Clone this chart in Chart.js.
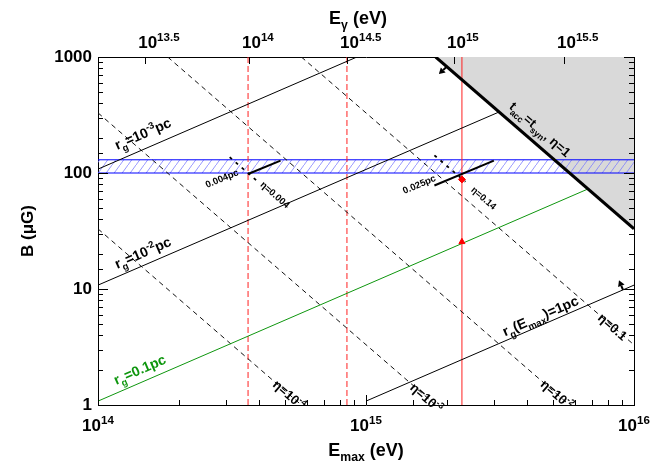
<!DOCTYPE html>
<html><head><meta charset="utf-8">
<script src="https://cdn.jsdelivr.net/npm/chart.js@4.4.1/dist/chart.umd.min.js"></script>
<style>html,body{margin:0;padding:0;background:#fff;}canvas{display:block;}</style>
</head><body>
<canvas id="c" width="664" height="465"></canvas>
<script>
// ---------- data ----------
const xRange = [1e14, 1e16];          // E_max (eV)
const yRange = [1, 1000];             // B (µG)
const xMajorTicks = [1e14, 1e15, 1e16];
const xTickLabels = [['10','14'], ['10','15'], ['10','16']];
const yMajorTicks = [1, 10, 100, 1000];
const yTickLabels = ['1', '10', '100', '1000'];
const topTickEmax = [1.50e14, 3.66e14, 8.5e14, 2.13e15, 5.48e15];   // positions of E_gamma ticks in E_max
const topTickLabels = [['10','13.5'], ['10','14'], ['10','14.5'], ['10','15'], ['10','15.5']];

const rgLine1e3 = [[1e14, 108], [9.25e14, 1000]];
const rgLine1e2 = [[1e14, 10.8], [3.14e15, 336]];
const rgLine01  = [[1e14, 1.08], [6.73e15, 72.8]];
const rgLine1pc = [[1e15, 1.08], [1e16, 10.8]];
const etaLine1e4 = [[1e14, 33], [5.74e14, 1]];
const etaLine1e3 = [[1e14, 330], [1.82e15, 1]];
const etaLine1e2 = [[1.82e14, 1000], [5.74e15, 1]];
const etaLine1e1 = [[5.74e14, 1000], [1e16, 3.3]];
const etaLine1   = [[1.82e15, 1000], [1e16, 33]];
const segRg004  = [[3.63e14, 98], [4.8e14, 128]];
const segRg025  = [[1.8e15, 78], [3.0e15, 128]];
const segEta004 = [[3.1e14, 137], [4.0e14, 82]];
const segEta014 = [[1.8e15, 142], [2.35e15, 84]];
const bandB = [100, 130];
const redDashedE = [3.63e14, 8.49e14];
const redSolidE = [2.28e15];
const redPoint = [[2.28e15, 88]];
const redLimit = [[2.28e15, 25.5]];
const arrows = [
  {from: [2.0e15, 825], to: [1.87e15, 713]},
  {from: [9.1e15, 9.84], to: [8.79e15, 11.9]}
];

const GREEN = '#0e960e';
const GREY = '#d9d9d9';
const FONT = '"Liberation Sans", Arial, Helvetica, sans-serif';
function fnt(s){ return 'bold ' + s + 'px ' + FONT; }

const labels = [
  {segs:[['r'],['g','sub'],['=10'],['-3','sup'],['pc']], at:[1.18e14,158], ref:rgLine1e3, size:14},
  {segs:[['r'],['g','sub'],['=10'],['-2','sup'],['pc']], at:[1.18e14,14.9], ref:rgLine1e2, size:14},
  {segs:[['r'],['g','sub'],['=0.1pc']], at:[1.17e14,1.49], ref:rgLine01, size:14, color:GREEN},
  {segs:[['r'],['g','sub'],['(E'],['max','sub'],[')=1pc']], at:[3.3e15,3.9], ref:rgLine1pc, size:14},
  {segs:[['t'],['acc','sub'],['=t'],['syn','sub'],[', η=1']], at:[3.4e15,365], ref:etaLine1, size:13},
  {segs:[['η=10'],['-4','sup']], at:[4.58e14,1.57], ref:etaLine1e4, size:13, mid:true},
  {segs:[['η=10'],['-3','sup']], at:[1.49e15,1.48], ref:etaLine1e3, size:13, mid:true},
  {segs:[['η=10'],['-2','sup']], at:[4.57e15,1.58], ref:etaLine1e2, size:13, mid:true},
  {segs:[['η=0.1']], at:[7.47e15,5.9], ref:etaLine1e1, size:13, mid:true},
  {segs:[['0.004pc']], at:[2.55e14,74.3], ref:segRg004, size:9.5},
  {segs:[['η=0.004']], at:[4.09e14,82], ref:segEta004, size:9.5, mid:true},
  {segs:[['0.025pc']], at:[1.39e15,65.9], ref:segRg025, size:9.5},
  {segs:[['η=0.14']], at:[2.5e15,74], ref:segEta014, size:9.5, mid:true}
];

// ---------- helpers ----------
function pts(a){ return a.map(p => ({x:p[0], y:p[1]})); }
function lineDS(arr, color, width, dash, extra){
  return Object.assign({data: pts(arr), borderColor: color, borderWidth: width, borderDash: dash || [],
    pointRadius: 0, pointHoverRadius: 0, fill: false, tension: 0}, extra || {});
}
function isMajor(v){ const l = Math.log10(v); return Math.abs(l - Math.round(l)) < 1e-6; }
function richWidth(ctx, segs, size){
  let w = 0;
  for (const s of segs){ ctx.font = fnt(s[1] ? size*0.68 : size); w += ctx.measureText(s[0]).width; }
  return w;
}
function drawRich(ctx, segs, x, y, size){
  let cx = x;
  for (const s of segs){
    const k = s[1];
    const fs = k ? size*0.68 : size;
    ctx.font = fnt(fs);
    const dy = k === 'sub' ? size*0.3 : (k === 'sup' ? -size*0.42 : 0);
    ctx.fillText(s[0], cx, y + dy);
    cx += ctx.measureText(s[0]).width;
  }
}

const canvas = document.getElementById('c');
const mainCtx = canvas.getContext('2d');
function hatchPattern(){
  const c = document.createElement('canvas'); c.width = 8; c.height = 11;
  const g = c.getContext('2d');
  g.strokeStyle = 'rgba(120,120,255,0.85)'; g.lineWidth = 0.9;
  g.beginPath(); g.moveTo(0, 11); g.lineTo(8, 0); g.stroke();
  return mainCtx.createPattern(c, 'repeat');
}

// ---------- datasets ----------
const datasets = [];
datasets.push(lineDS(etaLine1, 'rgba(0,0,0,0)', 0, [], {fill: 'end', backgroundColor: GREY, order: 10}));
const bandLowIdx = datasets.length;
datasets.push(lineDS([[xRange[0], bandB[0]], [xRange[1], bandB[0]]], '#0000ff', 1, [], {order: 9}));
datasets.push(lineDS([[xRange[0], bandB[1]], [xRange[1], bandB[1]]], '#0000ff', 1, [], {order: 9, fill: {target: bandLowIdx}, backgroundColor: hatchPattern()}));
datasets.push(lineDS(rgLine1e3, '#000', 1));
datasets.push(lineDS(rgLine1e2, '#000', 1));
datasets.push(lineDS(rgLine01, GREEN, 1));
datasets.push(lineDS(rgLine1pc, '#000', 1));
for (const l of [etaLine1e4, etaLine1e3, etaLine1e2, etaLine1e1]) datasets.push(lineDS(l, '#111', 1, [5, 4]));
datasets.push(lineDS(segRg004, '#000', 2));
datasets.push(lineDS(segRg025, '#000', 2));
datasets.push(lineDS(segEta004, '#000', 1.8, [3, 5]));
datasets.push(lineDS(segEta014, '#000', 1.8, [3, 5]));
for (const e of redDashedE) datasets.push(lineDS([[e, yRange[0]], [e, yRange[1]]], '#ff2020', 1, [6, 3]));
for (const e of redSolidE) datasets.push(lineDS([[e, yRange[0]], [e, yRange[1]]], '#ff2020', 1));
datasets.push({data: pts(redPoint), showLine: false, pointStyle: 'rectRot', pointRadius: 3.5, pointBackgroundColor: '#ff0000', pointBorderColor: '#ff0000', order: -2});
datasets.push({data: pts(redLimit), showLine: false, pointStyle: 'triangle', pointRadius: 3.5, pointBackgroundColor: '#ff0000', pointBorderColor: '#ff0000', order: -2});
datasets.push(lineDS(etaLine1, '#000', 3, [], {order: -1}));

// ---------- plugin for ticks, labels, annotations ----------
const decor = {
  id: 'decor',
  afterDatasetsDraw(chart){
    const ctx = chart.ctx, X = chart.scales.x, Y = chart.scales.y;
    const P = p => [X.getPixelForValue(p[0]), Y.getPixelForValue(p[1])];
    ctx.save();
    ctx.strokeStyle = '#000'; ctx.fillStyle = '#000'; ctx.lineWidth = 2;
    for (const a of arrows){
      const [x1, y1] = P(a.from), [x2, y2] = P(a.to);
      const ang = Math.atan2(y2 - y1, x2 - x1);
      const hl = 6, hw = 3.5;
      const bx = x2 - hl*Math.cos(ang), by = y2 - hl*Math.sin(ang);
      ctx.beginPath(); ctx.moveTo(x1, y1); ctx.lineTo(bx, by); ctx.stroke();
      ctx.beginPath(); ctx.moveTo(x2, y2);
      ctx.lineTo(bx + hw*Math.sin(ang), by - hw*Math.cos(ang));
      ctx.lineTo(bx - hw*Math.sin(ang), by + hw*Math.cos(ang));
      ctx.closePath(); ctx.fill();
    }
    ctx.textAlign = 'left'; ctx.textBaseline = 'alphabetic';
    for (const L of labels){
      const [ax, ay] = P(L.at);
      const p1 = P(L.ref[0]), p2 = P(L.ref[1]);
      const ang = Math.atan2(p2[1] - p1[1], p2[0] - p1[0]);
      ctx.save();
      ctx.translate(ax, ay); ctx.rotate(ang);
      ctx.fillStyle = L.color || '#000';
      drawRich(ctx, L.segs, 0, L.mid ? L.size*0.36 : 0, L.size);
      ctx.restore();
    }
    ctx.restore();
  },
  afterDraw(chart){
    const ctx = chart.ctx, a = chart.chartArea, X = chart.scales.x, Y = chart.scales.y, X2 = chart.scales.x2;
    ctx.save();
    ctx.strokeStyle = '#000'; ctx.lineWidth = 1;
    ctx.beginPath();
    for (const t of X.ticks){
      const v = t.value; if (v < xRange[0]*0.999 || v > xRange[1]*1.001) continue;
      const px = Math.round(X.getPixelForValue(v)) + 0.5, len = isMajor(v) ? 10 : 5;
      ctx.moveTo(px, a.bottom); ctx.lineTo(px, a.bottom - len);
    }
    for (const v of topTickEmax){
      const px = Math.round(X2.getPixelForValue(v)) + 0.5;
      ctx.moveTo(px, a.top); ctx.lineTo(px, a.top + 7);
    }
    for (const t of Y.ticks){
      const v = t.value; if (v < yRange[0]*0.999 || v > yRange[1]*1.001) continue;
      const py = Math.round(Y.getPixelForValue(v)) + 0.5, len = isMajor(v) ? 10 : 5;
      ctx.moveTo(a.left, py); ctx.lineTo(a.left + len, py);
      ctx.moveTo(a.right, py); ctx.lineTo(a.right - len, py);
    }
    ctx.stroke();
    ctx.fillStyle = '#000'; ctx.textAlign = 'left'; ctx.textBaseline = 'alphabetic';
    xMajorTicks.forEach((v, i) => {
      const segs = [[xTickLabels[i][0]], [xTickLabels[i][1], 'sup']];
      const w = richWidth(ctx, segs, 17);
      drawRich(ctx, segs, X.getPixelForValue(v) - w/2, a.bottom + 26, 17);
    });
    topTickEmax.forEach((v, i) => {
      const segs = [[topTickLabels[i][0]], [topTickLabels[i][1], 'sup']];
      drawRich(ctx, segs, X2.getPixelForValue(v) - 7, a.top - 9, 17);
    });
    const bt = [['E'], ['max', 'sub'], [' (eV)']];
    drawRich(ctx, bt, (a.left + a.right)/2 - richWidth(ctx, bt, 18)/2, 456, 18);
    const tt = [['E'], ['γ', 'sub'], [' (eV)']];
    drawRich(ctx, tt, 358 - richWidth(ctx, tt, 18)/2, 24, 18);
    ctx.save();
    ctx.translate(28, (a.top + a.bottom)/2); ctx.rotate(-Math.PI/2);
    ctx.font = fnt(17); ctx.textAlign = 'center'; ctx.textBaseline = 'middle';
    ctx.fillText('B (μG)', 0, 0);
    ctx.restore();
    ctx.restore();
  }
};

const hiddenTicks = {display: false};
const axisGrid = {display: true, drawOnChartArea: false, drawTicks: false};
const axisBorder = {display: true, color: '#000', width: 1};

new Chart(canvas, {
  type: 'line',
  data: {datasets},
  options: {
    responsive: false, devicePixelRatio: 1, animation: false,
    layout: {padding: 0},
    plugins: {legend: {display: false}, tooltip: {enabled: false}, filler: {propagate: false}},
    elements: {line: {borderCapStyle: 'butt'}},
    scales: {
      x: {type: 'logarithmic', position: 'bottom', min: xRange[0], max: xRange[1],
          grid: axisGrid, border: axisBorder, ticks: hiddenTicks,
          afterFit: s => { s.height = 60; }},
      x2: {type: 'logarithmic', axis: 'x', position: 'top', min: xRange[0], max: xRange[1],
          grid: axisGrid, border: axisBorder, ticks: hiddenTicks,
          afterFit: s => { s.height = 57; }},
      y: {type: 'logarithmic', position: 'left', min: yRange[0], max: yRange[1],
          grid: axisGrid, border: axisBorder,
          ticks: {autoSkip: false, padding: 6, color: '#000', font: {family: FONT, size: 17, weight: 'bold'},
                  callback: v => { const i = yMajorTicks.findIndex(m => Math.abs(m - v) < 1e-6*m); return i >= 0 ? yTickLabels[i] : ''; }},
          afterFit: s => { s.width = 98; }},
      y2: {type: 'logarithmic', axis: 'y', position: 'right', min: yRange[0], max: yRange[1],
          grid: axisGrid, border: axisBorder, ticks: hiddenTicks,
          afterFit: s => { s.width = 30; }}
    }
  },
  plugins: [decor]
});
</script>
</body></html>
